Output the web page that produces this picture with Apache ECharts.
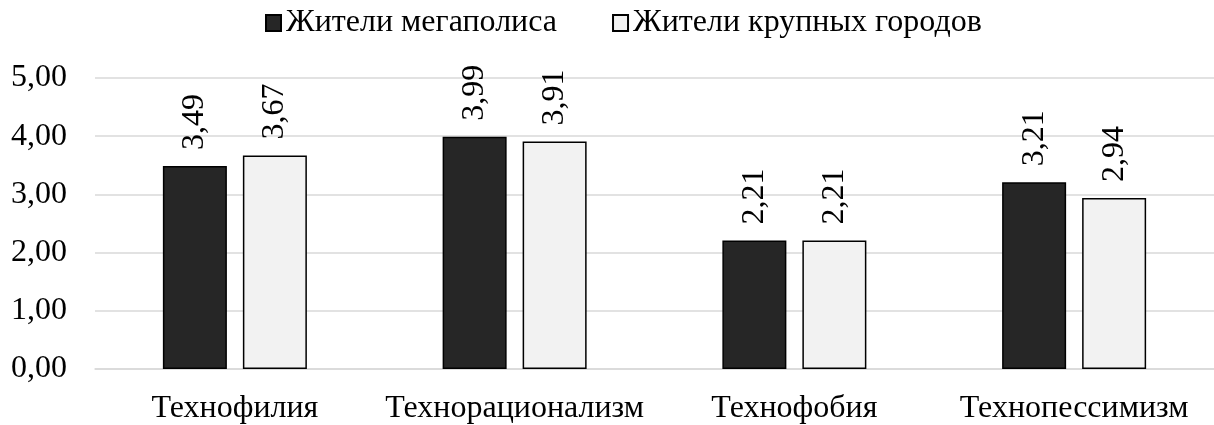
<!DOCTYPE html>
<html>
<head>
<meta charset="utf-8">
<script src="https://cdn.jsdelivr.net/npm/echarts@6/dist/echarts.min.js"></script>
<style>
  html, body { margin: 0; padding: 0; background: #fff; }
  #chart { width: 1214px; height: 425px; }
</style>
</head>
<body>
<div id="chart"></div>
<script>
// Средние оценки отношения к технологиям по группам респондентов
const categories = ['Технофилия', 'Технорационализм', 'Технофобия', 'Технопессимизм'];
const seriesNames = ['Жители мегаполиса', 'Жители крупных городов'];
const megapolis = [3.49, 3.99, 2.21, 3.21];
const bigCities = [3.67, 3.91, 2.21, 2.94];
const yTicks = [0, 1, 2, 3, 4, 5];

const FONT = '"Liberation Serif", "Times New Roman", serif';
const FONT_SIZE = 32;
const fmt = v => v.toFixed(2).replace('.', ',');

const chart = echarts.init(document.getElementById('chart'), null, { renderer: 'canvas' });

const valueLabel = {
  show: true,
  position: 'top',
  rotate: 90,
  align: 'left',
  verticalAlign: 'middle',
  distance: 16,
  color: '#000',
  fontFamily: FONT,
  fontSize: FONT_SIZE,
  formatter: p => fmt(p.value)
};

chart.setOption({
  animation: false,
  backgroundColor: '#fff',
  textStyle: { fontFamily: FONT },
  legend: {
    top: 7,
    left: 265,
    padding: 0,
    itemWidth: 15,
    itemHeight: 16,
    itemGap: 55,
    textStyle: { fontFamily: FONT, fontSize: FONT_SIZE, color: '#000' },
    data: seriesNames.map(n => ({ name: n, icon: 'rect' }))
  },
  grid: { left: 95, right: 0, top: 78, bottom: 55, containLabel: false },
  xAxis: {
    type: 'category',
    data: categories,
    axisLine: { show: true, lineStyle: { color: '#d9d9d9', width: 1.5 } },
    axisTick: { show: false },
    axisLabel: { interval: 0, color: '#000', fontFamily: FONT, fontSize: FONT_SIZE, margin: 24 }
  },
  yAxis: {
    type: 'value',
    min: yTicks[0],
    max: yTicks[yTicks.length - 1],
    interval: 1,
    axisLine: { show: false },
    axisTick: { show: false },
    splitLine: { lineStyle: { color: '#d9d9d9', width: 1.5 } },
    axisLabel: { color: '#000', fontFamily: FONT, fontSize: FONT_SIZE, margin: 28, formatter: v => fmt(v) }
  },
  series: [
    {
      name: seriesNames[0],
      type: 'bar',
      data: megapolis,
      barWidth: 64,
      barGap: '25%',
      itemStyle: { color: '#262626', borderColor: '#000', borderWidth: 1.5 },
      label: valueLabel
    },
    {
      name: seriesNames[1],
      type: 'bar',
      data: bigCities,
      barWidth: 64,
      itemStyle: { color: '#f2f2f2', borderColor: '#000', borderWidth: 1.5 },
      label: valueLabel
    }
  ]
});
</script>
</body>
</html>
